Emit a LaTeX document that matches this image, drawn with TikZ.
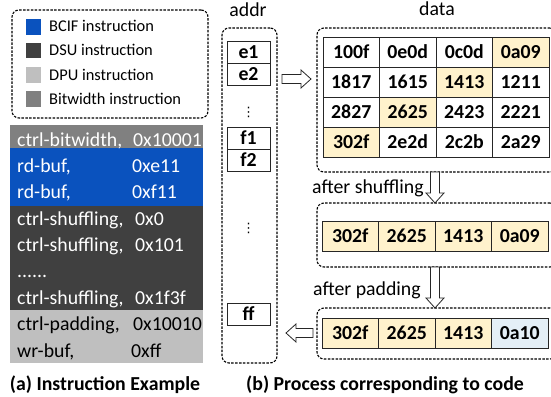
\documentclass[tikz,border=0pt]{standalone}
\usepackage{fontspec}
\setmainfont{Carlito}
\newfontfamily\symfont{DejaVu Sans}
\usetikzlibrary{calc}

\definecolor{bcifblue}{HTML}{0A52BE}
\definecolor{dsugray}{HTML}{404040}
\definecolor{dpugray}{HTML}{BFBFBF}
\definecolor{bitgray}{HTML}{808080}
\definecolor{pickyellow}{HTML}{FFF2CC}
\definecolor{padblue}{HTML}{E4EFF7}

\newcommand{\legfont}{\fontsize{16.4}{19}\selectfont}
\newcommand{\insfont}{\fontsize{19.8}{23}\selectfont}
\newcommand{\cellfont}{\bfseries\fontsize{19.8}{23}\selectfont}
\newcommand{\capfont}{\bfseries\fontsize{19.8}{23}\selectfont}

\tikzset{
  dbox/.style={draw, line width=1.1pt, dash pattern=on 2.5pt off 1.4pt, rounded corners=7pt, inner sep=0pt, outer sep=0pt},
  cell/.style={draw=black!85, line width=0.8pt, minimum width=56.5pt, minimum height=30pt, inner sep=0pt, outer sep=0pt, font=\cellfont},
  acell/.style={draw=black!85, line width=0.8pt, minimum width=43pt, minimum height=22pt, inner sep=0pt, outer sep=0pt, font=\cellfont},
  legsq/.style={minimum size=15.5pt, inner sep=0pt, outer sep=0pt},
  ins/.style={anchor=base west, inner sep=0pt, font=\insfont, text=white},
  vdot/.style={inner sep=0pt, font=\symfont\fontsize{13}{15}\selectfont},
  hollow/.style={draw=black!85, line width=0.8pt, fill=white, to path={
    let \p1=(\tikztostart), \p2=(\tikztotarget),
        \n1={atan2(\y2-\y1,\x2-\x1)}, \n2={veclen(\x2-\x1,\y2-\y1)-10}
    in ($(\p1)+(\n1+90:4.5pt)$) -- ($(\p1)+(\n1+90:4.5pt)+(\n1:\n2)$)
    -- ($(\p1)+(\n1+90:9pt)+(\n1:\n2)$) -- (\p2)
    -- ($(\p1)+(\n1-90:9pt)+(\n1:\n2)$) -- ($(\p1)+(\n1-90:4.5pt)+(\n1:\n2)$)
    -- ($(\p1)+(\n1-90:4.5pt)$) -- cycle}}
}

\begin{document}
\begin{tikzpicture}[x=1pt,y=-1pt]
\useasboundingbox (0,0) rectangle (551,396);

% legend
\node[dbox, minimum width=196pt, minimum height=108pt] (legend) at (110,64) {};
\node[legsq, fill=bcifblue] (lbcif) at (33.5,27) {};
\node[legsq, fill=dsugray] (ldsu) at (33.5,50.5) {};
\node[legsq, fill=dpugray] (ldpu) at (33.5,75) {};
\node[legsq, fill=bitgray] (lbit) at (33.5,99) {};
\node[anchor=base west, inner sep=0pt, font=\legfont] at (49,32) {BCIF instruction};
\node[anchor=base west, inner sep=0pt, font=\legfont] at (49,56) {DSU instruction};
\node[anchor=base west, inner sep=0pt, font=\legfont] at (49,80) {DPU instruction};
\node[anchor=base west, inner sep=0pt, font=\legfont] at (49,104.5) {Bitwidth instruction};

% instruction list
\fill[bitgray] (10,125) rectangle (203,148);
\fill[bcifblue] (10,148) rectangle (203,206);
\fill[dsugray] (10,206) rectangle (203,310);
\fill[dpugray] (10,310) rectangle (203,363);
\node[ins] at (17,146) {ctrl-bitwidth,};
\node[ins] at (133,146) {0x10001};
\node[ins] at (17,172) {rd-buf,};
\node[ins] at (132,172) {0xe11};
\node[ins] at (17,198.5) {rd-buf,};
\node[ins] at (132,198.5) {0xf11};
\node[ins] at (17,225) {ctrl-shuffling,};
\node[ins] at (135,225) {0x0};
\node[ins] at (17,251.5) {ctrl-shuffling,};
\node[ins] at (135,251.5) {0x101};
\node[ins] at (17,277.5) {......};
\node[ins] at (17,304) {ctrl-shuffling,};
\node[ins] at (135,304) {0x1f3f};
\node[ins, text=black] at (17,330.5) {ctrl-padding,};
\node[ins, text=black] at (133,330.5) {0x10010};
\node[ins, text=black] at (17,357) {wr-buf,};
\node[ins, text=black] at (131,357) {0xff};

% addr column
\node[anchor=base, inner sep=0pt, font=\insfont] (addrlab) at (248,17) {addr};
\node[dbox, minimum width=55pt, minimum height=335pt] (addrbox) at (249.5,195.5) {};
\node[acell] (e1) at (248.5,52) {e1};
\node[acell] (e2) at (248.5,74) {e2};
\node[vdot] (dots1) at (248.5,112) {⋮};
\node[acell] (f1) at (248.5,138) {f1};
\node[acell] (f2) at (248.5,160) {f2};
\node[vdot] (dots2) at (248.5,228) {⋮};
\node[acell] (ff) at (248.5,314) {ff};

% data block
\node[anchor=base, inner sep=0pt, font=\insfont] (datalab) at (437,16) {data};
\node[dbox, minimum width=240pt, minimum height=144pt] (databox) at (437,100) {};
\node[cell] (d00) at (351.25,52) {100f};
\node[cell] (d01) at (407.75,52) {0e0d};
\node[cell] (d02) at (464.25,52) {0c0d};
\node[cell, fill=pickyellow] (d03) at (520.75,52) {0a09};
\node[cell] (d10) at (351.25,82) {1817};
\node[cell] (d11) at (407.75,82) {1615};
\node[cell, fill=pickyellow] (d12) at (464.25,82) {1413};
\node[cell] (d13) at (520.75,82) {1211};
\node[cell] (d20) at (351.25,112) {2827};
\node[cell, fill=pickyellow] (d21) at (407.75,112) {2625};
\node[cell] (d22) at (464.25,112) {2423};
\node[cell] (d23) at (520.75,112) {2221};
\node[cell, fill=pickyellow] (d30) at (351.25,142) {302f};
\node[cell] (d31) at (407.75,142) {2e2d};
\node[cell] (d32) at (464.25,142) {2c2b};
\node[cell] (d33) at (520.75,142) {2a29};

% after shuffling
\node[anchor=base west, inner sep=0pt, font=\insfont] (shuflab) at (312,193) {after shuffling};
\node[dbox, minimum width=240pt, minimum height=64pt] (shufbox) at (437,235) {};
\node[cell, fill=pickyellow] (s0) at (350.25,236) {302f};
\node[cell, fill=pickyellow] (s1) at (406.75,236) {2625};
\node[cell, fill=pickyellow] (s2) at (463.25,236) {1413};
\node[cell, fill=pickyellow] (s3) at (519.75,236) {0a09};

% after padding
\node[anchor=base west, inner sep=0pt, font=\insfont] (padlab) at (313,295) {after padding};
\node[dbox, minimum width=240pt, minimum height=51pt] (padbox) at (437,333.5) {};
\node[cell, fill=pickyellow] (p0) at (350.25,333) {302f};
\node[cell, fill=pickyellow] (p1) at (406.75,333) {2625};
\node[cell, fill=pickyellow] (p2) at (463.25,333) {1413};
\node[cell, fill=padblue] (p3) at (519.75,333) {0a10};

% arrows
\coordinate (rdfrom) at (282,79);
\coordinate (rdto) at (311,79);
\coordinate (wrfrom) at (313,333);
\coordinate (wrto) at (286,333);
\draw[hollow] (rdfrom) to (rdto);
\draw[hollow] (s2.west |- databox.south) to (s2.west |- shufbox.north);
\draw[hollow] (p2.west |- shufbox.south) to (p2.west |- padbox.north);
\draw[hollow] (wrfrom) to (wrto);

% captions
\node[anchor=base, inner sep=0pt, font=\capfont] (capa) at (105,390) {(a) Instruction Example};
\node[anchor=base, inner sep=0pt, font=\capfont] (capb) at (385,390) {(b) Process corresponding to code};
\end{tikzpicture}
\end{document}
